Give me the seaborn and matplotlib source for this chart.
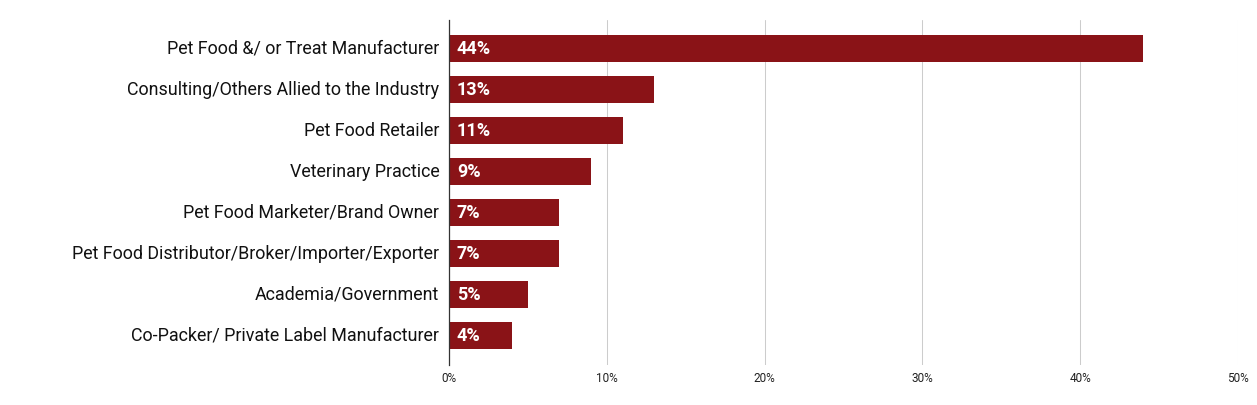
import matplotlib
matplotlib.use("Agg")
import matplotlib.pyplot as plt
import seaborn as sns
import pandas as pd
from matplotlib.ticker import FuncFormatter

categories = [
    "Pet Food &/ or Treat Manufacturer",
    "Consulting/Others Allied to the Industry",
    "Pet Food Retailer",
    "Veterinary Practice",
    "Pet Food Marketer/Brand Owner",
    "Pet Food Distributor/Broker/Importer/Exporter",
    "Academia/Government",
    "Co-Packer/ Private Label Manufacturer",
]
values = [44, 13, 11, 9, 7, 7, 5, 4]
ticks = [0, 10, 20, 30, 40, 50]

sns.set_theme(style="white")
plt.rcParams["font.family"] = ["Roboto", "DejaVu Sans"]

df = pd.DataFrame({"cat": categories, "val": values})
fig = plt.figure(figsize=(12.57, 4.05), dpi=100)
ax = fig.add_axes([0.3572, 0.0988, 0.6277, 0.8518])
color = "#8a1317"
sns.barplot(data=df, x="val", y="cat", color=color, width=0.66, ax=ax,
            saturation=1, edgecolor="none")

ax.set_xlim(0, 50)
ax.set_ylim(7.71, -0.7)
ax.set_xticks(ticks)
ax.xaxis.set_major_formatter(FuncFormatter(lambda v, p: f"{int(v)}%"))
ax.grid(axis="x", color="#cccccc", linewidth=0.75)
ax.set_axisbelow(True)
for s in ["top", "right", "bottom"]:
    ax.spines[s].set_visible(False)
ax.spines["left"].set_color("#333333")
ax.spines["left"].set_linewidth(0.9)
ax.set_xlabel("")
ax.set_ylabel("")
ax.tick_params(axis="x", labelsize=8.5, colors="#222222", length=0, pad=5)
ax.tick_params(axis="y", labelsize=12.9, colors="#111111", length=0, pad=7)
for lbl in ax.get_yticklabels():
    lbl.set_verticalalignment("center")

for i, v in enumerate(values):
    ax.text(0.5, i, f"{v}%", color="white", fontweight="bold",
            fontsize=13, va="center", ha="left")

fig.savefig("out.png", dpi=100)
